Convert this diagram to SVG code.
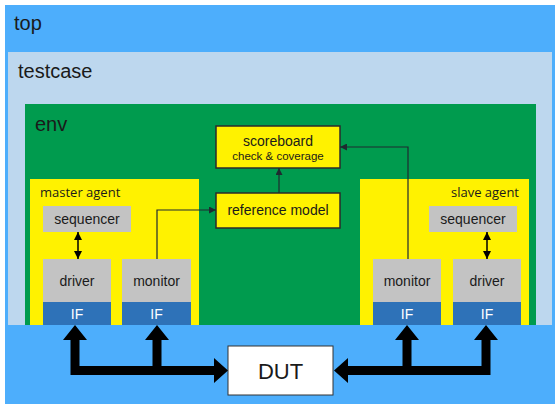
<svg xmlns="http://www.w3.org/2000/svg" width="558" height="408" viewBox="0 0 558 408">
<defs>
<style>
text{font-family:"Liberation Sans",Arial,sans-serif;fill:#1a1a1a}
.big{font-size:20px}
.lbl{font-size:14px;text-anchor:middle}
.agent{font-family:"Open Sans","Liberation Sans",sans-serif;font-size:13px}
.gray{fill:#c3c3c3}
.if{fill:#2e72b8}
.ift{font-size:14px;text-anchor:middle;fill:#ffffff}
.ybox{fill:#fff200;stroke:#2b2b2b;stroke-width:1.5}
.conn{fill:none;stroke:#1f2a30;stroke-width:1.2}
</style>
<marker id="ah" viewBox="0 0 10 10" refX="10" refY="5" markerWidth="7" markerHeight="7" orient="auto-start-reverse" markerUnits="userSpaceOnUse">
<path d="M0,0 L10,5 L0,10 Z" fill="#1f2a30"/>
</marker>
<marker id="ah2" viewBox="0 0 10 10" refX="10" refY="5" markerWidth="8" markerHeight="8" orient="auto-start-reverse" markerUnits="userSpaceOnUse">
<path d="M0,0 L10,5 L0,10 Z" fill="#000"/>
</marker>
</defs>
<g id="top">
<rect x="5" y="5" width="550" height="399" fill="#4daefc"/>
<text class="big" x="14" y="30">top</text>
</g>
<g id="testcase">
<rect x="8" y="52" width="544" height="273" fill="#bdd7ee"/>
<text class="big" x="18" y="78">testcase</text>
</g>
<g id="env">
<rect x="25" y="104" width="511" height="221" fill="#009b4e"/>
<text class="big" x="35" y="131">env</text>
</g>
<g id="master_agent">
<rect x="30" y="179" width="169" height="146" fill="#fff200"/>
<text class="agent" x="40" y="197">master agent</text>
</g>
<g id="slave_agent">
<rect x="360" y="179" width="169" height="146" fill="#fff200"/>
<text class="agent" x="519" y="197" text-anchor="end">slave agent</text>
</g>
<g id="scoreboard">
<rect class="ybox" x="216" y="126" width="124" height="42"/>
<text class="lbl" x="278" y="146">scoreboard</text>
<text x="278" y="160" font-size="11.5" text-anchor="middle">check &amp; coverage</text>
</g>
<g id="reference_model">
<rect class="ybox" x="216" y="193" width="124" height="35"/>
<text class="lbl" x="278" y="215">reference model</text>
</g>
<g id="master_sequencer">
<rect class="gray" x="43" y="206" width="88" height="26"/>
<text class="lbl" x="87" y="224" font-size="13">sequencer</text>
</g>
<g id="master_driver">
<rect class="gray" x="43" y="259" width="68" height="43"/>
<rect class="if" x="43" y="302" width="68" height="23"/>
<text class="lbl" x="77" y="286">driver</text>
<text class="ift" x="77" y="318.5">IF</text>
</g>
<g id="master_monitor">
<rect class="gray" x="122" y="259" width="69" height="43"/>
<rect class="if" x="122" y="302" width="69" height="23"/>
<text class="lbl" x="156.5" y="286">monitor</text>
<text class="ift" x="156.5" y="318.5">IF</text>
</g>
<g id="slave_sequencer">
<rect class="gray" x="429" y="206" width="88" height="26"/>
<text class="lbl" x="473" y="224" font-size="13">sequencer</text>
</g>
<g id="slave_monitor">
<rect class="gray" x="373" y="259" width="68" height="43"/>
<rect class="if" x="373" y="302" width="68" height="23"/>
<text class="lbl" x="407" y="286">monitor</text>
<text class="ift" x="407" y="318.5">IF</text>
</g>
<g id="slave_driver">
<rect class="gray" x="453" y="259" width="68" height="43"/>
<rect class="if" x="453" y="302" width="68" height="23"/>
<text class="lbl" x="487" y="286">driver</text>
<text class="ift" x="487" y="318.5">IF</text>
</g>
<g id="DUT">
<rect x="228" y="346" width="105" height="49" fill="#ffffff" stroke="#333" stroke-width="1"/>
<text x="280.5" y="379" font-size="22" text-anchor="middle">DUT</text>
</g>
<g id="connectors">
<path class="conn" d="M279,193 V168" marker-end="url(#ah)"/>
<path class="conn" d="M408,259 V147 H340" marker-end="url(#ah)"/>
<path class="conn" d="M157,259 V210 H216" marker-end="url(#ah)"/>
<path d="M78,232 V259" stroke="#000" stroke-width="1.5" marker-start="url(#ah2)" marker-end="url(#ah2)"/>
<path d="M487,232 V259" stroke="#000" stroke-width="1.5" marker-start="url(#ah2)" marker-end="url(#ah2)"/>
<path fill="#000" d="M75,325 L87,340 L79.5,340 L79.5,366 L152.5,366 L152.5,340 L145,340 L157,325 L169,340 L161.5,340 L161.5,366 L214,366 L214,358 L228,370.5 L214,383 L214,375 L70.5,375 L70.5,340 L63,340 Z"/>
<path fill="#000" d="M334,370.5 L348,358 L348,366 L402.5,366 L402.5,340 L395,340 L407,325 L419,340 L411.5,340 L411.5,366 L481.5,366 L481.5,340 L474,340 L486,325 L498,340 L490.5,340 L490.5,375 L348,375 L348,383 Z"/>
</g>
</svg>
